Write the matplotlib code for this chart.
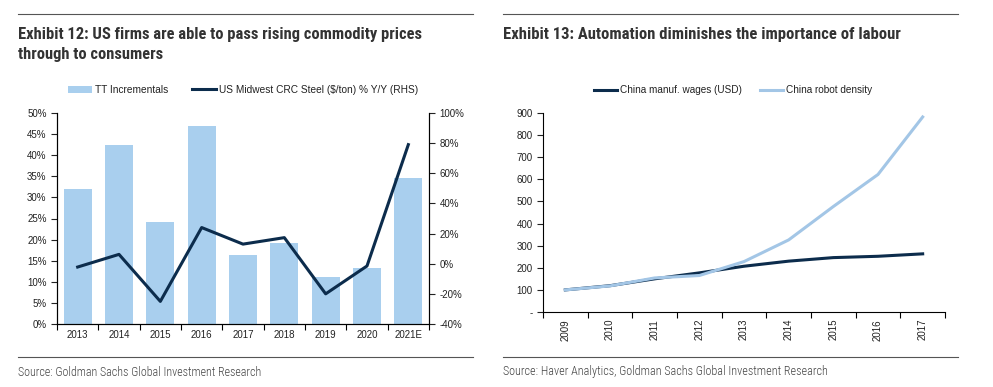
import numpy as np
import matplotlib
matplotlib.use("Agg")
from matplotlib import pyplot as plt
from matplotlib.ticker import FuncFormatter, MultipleLocator

plt.rcParams['font.family'] = ['Liberation Sans', 'DejaVu Sans']
narrow = ['Roboto Condensed', 'Liberation Sans', 'DejaVu Sans']

# Exhibit 12 data
years12 = ['2013', '2014', '2015', '2016', '2017', '2018', '2019', '2020', '2021E']
tt_incrementals = [32.0, 42.3, 24.2, 47.0, 16.3, 19.3, 11.2, 13.3, 34.5]
steel_yoy = [-2.2, 6.2, -25.0, 24.0, 13.0, 17.3, -20.0, -1.5, 79.0]

# Exhibit 13 data
years13 = ['2009', '2010', '2011', '2012', '2013', '2014', '2015', '2016', '2017']
wages = [100, 119, 150, 177, 207, 230, 246, 252, 263]
robots = [100, 118, 154, 165, 228, 326, 477, 622, 882]

light_blue = '#a9cfee'
robot_blue = '#a3c6e6'
navy = '#0c2c4c'
text_col = '#222222'

fig = plt.figure(figsize=(9.93, 3.87), dpi=100)
renderer = fig.canvas.get_renderer()


def fit_text(x, y, s, width_px, size, **kw):
    # place text, then scale the font so it spans the width seen in the reference
    t = fig.text(x / 993, 1 - y / 387, s, family=narrow, fontsize=size, **kw)
    w = t.get_window_extent(renderer).width
    t.set_fontsize(size * width_px / w)
    return t


# header / footer rules and titles
for x0, x1 in [(18, 473), (503, 958)]:
    for yy in (14, 357):
        fig.add_artist(plt.Line2D([x0 / 993, x1 / 993], [1 - yy / 387] * 2,
                                  color='#555555', lw=0.8))
fit_text(18, 39, 'Exhibit 12: US firms are able to pass rising commodity prices', 405, 12,
         weight='bold', color='#333333', va='baseline')
fit_text(18, 59, 'through to consumers', 146, 12,
         weight='bold', color='#333333', va='baseline')
fit_text(503, 39, 'Exhibit 13: Automation diminishes the importance of labour', 396, 12,
         weight='bold', color='#333333', va='baseline')
fit_text(18, 372, 'Source: Goldman Sachs Global Investment Research', 244, 9,
         weight='light', color='#444444', va='center')
fit_text(503, 372, 'Source: Haver Analytics, Goldman Sachs Global Investment Research', 323, 9,
         weight='light', color='#444444', va='center')

# ---- Exhibit 12 ----
ax = fig.add_axes([57 / 993, 1 - 324 / 387, 372 / 993, 211 / 387])
x = np.arange(len(years12))
bars = ax.bar(x, tt_incrementals, width=0.67, color=light_blue, label='TT Incrementals')
ax.set_xlim(-0.5, len(years12) - 0.5)
ax.set_ylim(0, 50)
ax.yaxis.set_major_locator(MultipleLocator(5))
ax.yaxis.set_major_formatter(FuncFormatter(lambda v, p: f'{v:.0f}%'))
ax.set_xticks(x)
ax.set_xticklabels(years12)
ax.set_xticks(np.arange(-0.5, len(years12)), minor=True)
ax.tick_params(axis='x', which='major', length=0, labelsize=7, pad=4, colors=text_col)
ax.tick_params(axis='x', which='minor', length=4, width=0.8, direction='out')
ax.tick_params(axis='y', labelsize=7, length=4, width=0.8, colors=text_col)
ax.spines['top'].set_visible(False)

ax2 = ax.twinx()
line, = ax2.plot(x, steel_yoy, color=navy, lw=2.2, label='US Midwest CRC Steel ($/ton) % Y/Y (RHS)')
ax2.set_ylim(-40, 100)
ax2.yaxis.set_major_locator(MultipleLocator(20))
ax2.yaxis.set_major_formatter(FuncFormatter(lambda v, p: f'{v:.0f}%'))
ax2.tick_params(axis='y', labelsize=7, length=4, width=0.8, colors=text_col)
ax2.spines['top'].set_visible(False)
for a in (ax, ax2):
    for s in a.spines.values():
        s.set_linewidth(0.8)

ax.legend([bars, line], [bars.get_label(), line.get_label()], ncol=2, frameon=False,
          loc='center', bbox_to_anchor=(0.5, 1 + (113 - 90) / 211), fontsize=7.3,
          handlelength=2.3, handletextpad=0.3, columnspacing=2.4, labelcolor=text_col)

# ---- Exhibit 13 ----
bx = fig.add_axes([543 / 993, 1 - 312 / 387, 402 / 993, 199 / 387])
x13 = np.arange(len(years13))
l1, = bx.plot(x13, wages, color=navy, lw=2.2, label='China manuf. wages (USD)')
l2, = bx.plot(x13, robots, color=robot_blue, lw=2.2, label='China robot density')
bx.set_xlim(-0.5, len(years13) - 0.5)
bx.set_ylim(0, 900)
bx.yaxis.set_major_locator(MultipleLocator(100))
bx.yaxis.set_major_formatter(FuncFormatter(lambda v, p: '-' if v == 0 else f'{v:.0f}'))
bx.set_xticks(x13)
bx.set_xticklabels(years13, rotation=90)
bx.set_xticks(np.arange(-0.5, len(years13)), minor=True)
bx.tick_params(axis='x', which='major', length=0, labelsize=7, pad=5, colors=text_col)
bx.tick_params(axis='x', which='minor', length=4, width=0.8, direction='out')
bx.tick_params(axis='y', labelsize=7, length=4, width=0.8, colors=text_col)
for s in ('top', 'right'):
    bx.spines[s].set_visible(False)
for s in bx.spines.values():
    s.set_linewidth(0.8)
bx.legend(ncol=2, frameon=False, loc='center',
          bbox_to_anchor=((733 - 543) / 402, 1 + (113 - 90) / 199),
          fontsize=7.2, handlelength=2.3, handletextpad=0.3, columnspacing=1.8, labelcolor=text_col)

fig.savefig('out.png', dpi=100)
